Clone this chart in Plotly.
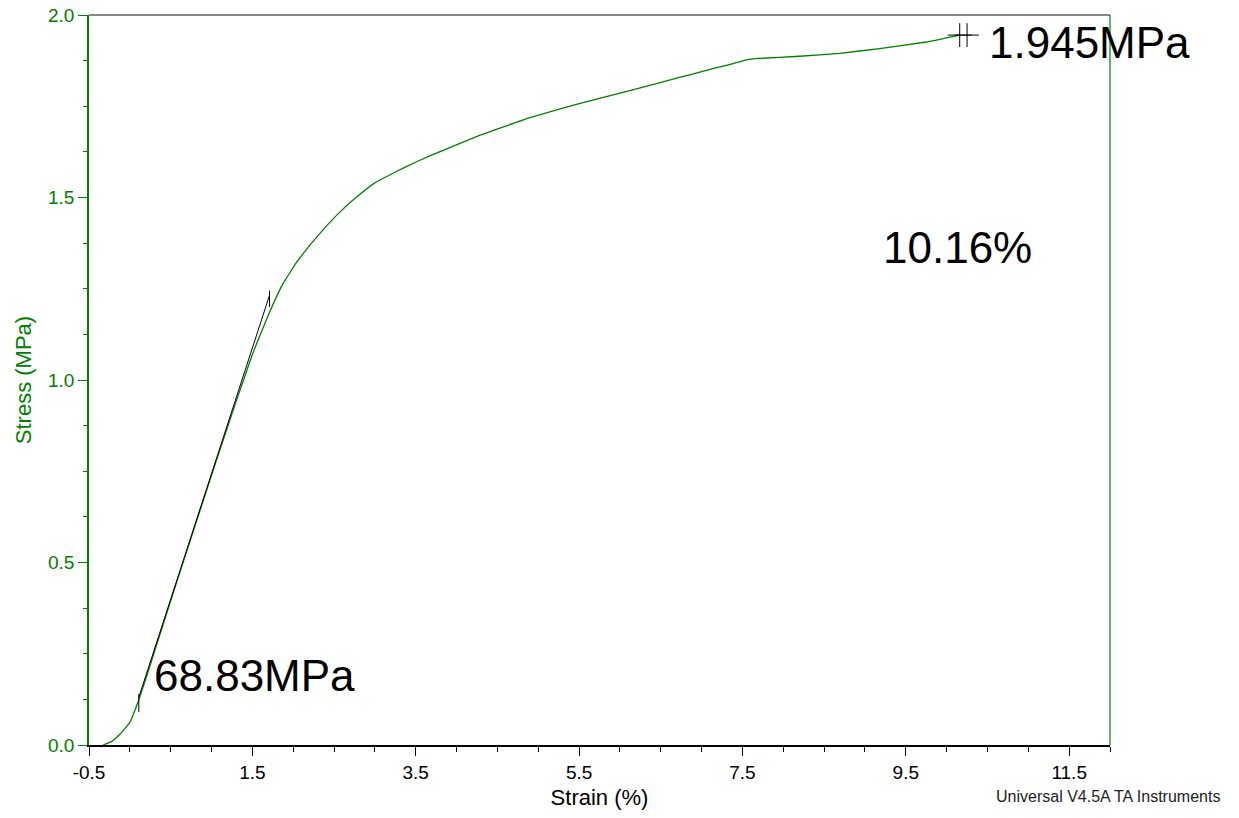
import plotly.graph_objects as go

# Stress-strain curve (strain in %, stress in MPa)
strain = [-0.33, -0.22, -0.12, 0.0, 0.1, 0.2, 0.35, 0.55, 0.8, 1.05, 1.3, 1.5,
          1.69, 1.87, 2.04, 2.2, 2.36, 2.57, 2.78, 3.0, 3.27, 3.51, 3.82, 4.28,
          4.89, 5.5, 6.12, 6.73, 7.0, 7.3, 7.55, 7.7, 8.2, 8.69, 9.18, 9.75, 10.16]
stress = [0.0, 0.01, 0.03, 0.062, 0.118, 0.185, 0.29, 0.43, 0.602, 0.773, 0.94, 1.07,
          1.175, 1.262, 1.322, 1.368, 1.41, 1.46, 1.502, 1.54, 1.572, 1.598, 1.628, 1.67,
          1.718, 1.757, 1.793, 1.829, 1.845, 1.862, 1.877, 1.881, 1.887, 1.895, 1.908,
          1.926, 1.945]

# Modulus tangent (slope 68.83 MPa = 0.6883 MPa per % strain)
modulus_slope = 0.6883
tangent_x0 = -0.08
tangent_strain = [0.11, 1.71]
tangent_stress = [modulus_slope * (s - tangent_x0) for s in tangent_strain]
tangent_ticks_lo = [0.09, 0.14]
tangent_ticks_hi = [1.20, 1.245]

# Break point markers
break_strain = [10.16, 10.25]
break_stress = [1.945, 1.945]

x_ticks = [-0.5, 1.5, 3.5, 5.5, 7.5, 9.5, 11.5]
y_ticks = [0.0, 0.5, 1.0, 1.5, 2.0]

GREEN = "#008000"
FONT = "Liberation Sans, Arial, sans-serif"

fig = go.Figure()
fig.add_trace(go.Scatter(x=strain, y=stress, mode="lines",
                         line=dict(color=GREEN, width=1.3, shape="spline", smoothing=0.3),
                         hoverinfo="skip"))
fig.add_trace(go.Scatter(x=tangent_strain, y=tangent_stress, mode="lines",
                         line=dict(color="black", width=1), hoverinfo="skip"))
fig.add_trace(go.Scatter(x=[tangent_strain[0]] * 2, y=tangent_ticks_lo, mode="lines",
                         line=dict(color="black", width=1), hoverinfo="skip"))
fig.add_trace(go.Scatter(x=[tangent_strain[1]] * 2, y=tangent_ticks_hi, mode="lines",
                         line=dict(color="black", width=1), hoverinfo="skip"))
fig.add_trace(go.Scatter(x=break_strain, y=break_stress, mode="markers",
                         marker=dict(symbol="cross-thin", size=17,
                                     line=dict(color="black", width=1)),
                         hoverinfo="skip"))

big = dict(family=FONT, size=44, color="black")
fig.add_annotation(x=10.5, y=1.925, xref="x", yref="y", text="1.945MPa",
                   showarrow=False, xanchor="left", yanchor="middle", font=big)
fig.add_annotation(x=0.277, y=0.19, xref="x", yref="y", text="68.83MPa",
                   showarrow=False, xanchor="left", yanchor="middle", font=big)
fig.add_annotation(x=9.2, y=1.364, xref="x", yref="y", text="10.16%",
                   showarrow=False, xanchor="left", yanchor="middle", font=big)
fig.add_annotation(x=1.1097, y=-0.0712, xref="paper", yref="paper",
                   text="Universal V4.5A TA Instruments", showarrow=False,
                   xanchor="right", yanchor="middle",
                   font=dict(family=FONT, size=16, color="#222222"))

# Frame: grey top edge, green right edge
fig.add_shape(type="line", xref="paper", yref="paper", x0=0, x1=1, y0=1, y1=1,
              line=dict(color="#606060", width=1.5), layer="above")
fig.add_shape(type="line", xref="paper", yref="paper", x0=1, x1=1, y0=0, y1=1,
              line=dict(color=GREEN, width=1.2), layer="above")

fig.update_layout(
    width=1239, height=818,
    margin=dict(l=89, r=129, t=15, b=73),
    paper_bgcolor="white", plot_bgcolor="white",
    showlegend=False,
    font=dict(family=FONT),
    xaxis=dict(
        range=[-0.5, 12], tickvals=x_ticks, ticktext=[f"{v:.1f}" for v in x_ticks],
        ticks="outside", ticklen=9, tickwidth=1, tickcolor="black",
        showline=True, linecolor="black", linewidth=1.5,
        showgrid=False, zeroline=False, automargin=False,
        tickfont=dict(family=FONT, size=19, color="black"),
        title=dict(text="Strain (%)", font=dict(family=FONT, size=22, color="black"),
                   standoff=8),
        minor=dict(ticks="outside", ticklen=5, tick0=-0.5, dtick=0.5,
                   tickcolor="black", showgrid=False),
    ),
    yaxis=dict(
        range=[0, 2], tickvals=y_ticks, ticktext=[f"{v:.1f}" for v in y_ticks],
        ticks="outside", ticklen=9, tickwidth=1.2, tickcolor=GREEN,
        showline=True, linecolor=GREEN, linewidth=1.5,
        showgrid=False, zeroline=False, automargin=False,
        tickfont=dict(family=FONT, size=19, color=GREEN),
        title=dict(text="Stress (MPa)", font=dict(family=FONT, size=22, color=GREEN),
                   standoff=10),
        minor=dict(ticks="outside", ticklen=4, tick0=0, dtick=0.125,
                   tickcolor=GREEN, showgrid=False),
    ),
)

fig.write_html("out.html")
